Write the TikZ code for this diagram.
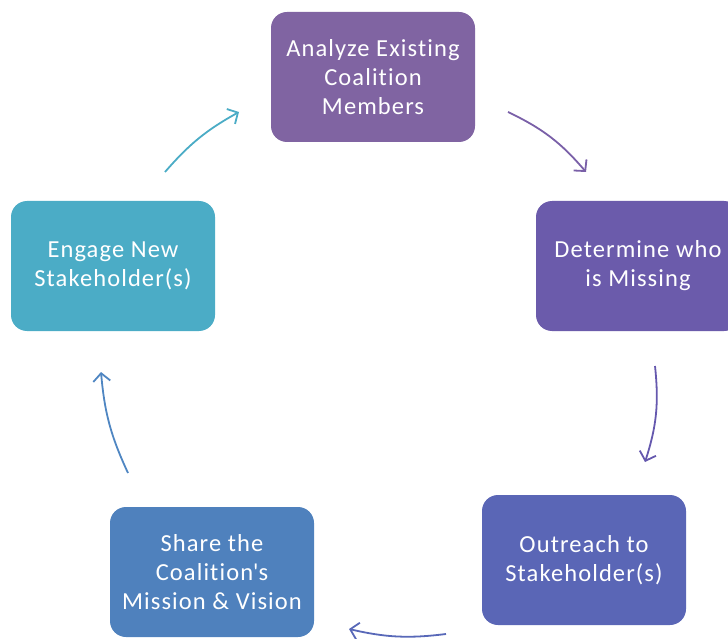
\documentclass[tikz,border=0pt]{standalone}
\usepackage{fontspec}
\setmainfont[LetterSpace=4.5,Ligatures={NoCommon}]{Carlito}
\usetikzlibrary{arrows.meta}
\definecolor{cA}{HTML}{8064A2}
\definecolor{cB}{HTML}{6B5BAB}
\definecolor{cC}{HTML}{5A66B6}
\definecolor{cD}{HTML}{4F81BD}
\definecolor{cE}{HTML}{4BACC6}
\definecolor{aA}{HTML}{7A60A8}
\definecolor{aB}{HTML}{6558AE}
\definecolor{aC}{HTML}{5868B8}
\definecolor{aD}{HTML}{4F86C2}
\definecolor{aE}{HTML}{4BACC6}
\tikzset{
  stagebox/.style={rectangle, rounded corners=16pt, minimum width=204pt, minimum height=130pt,
    text=white, font=\fontsize{24.5}{29}\selectfont, align=center, inner sep=0pt},
  cyc/.style={line width=1.8pt, -{Straight Barb[length=8pt,width=17pt,line width=1.8pt]}},
}
\begin{document}
\begin{tikzpicture}[x=1pt,y=-1pt]
\useasboundingbox (0,0) rectangle (728,639);
\node[stagebox, fill=cA] (n1) at (373,77) {Analyze Existing\\Coalition\\Members};
\node[stagebox, fill=cB] (n2) at (638,266) {Determine who\\is Missing};
\node[stagebox, fill=cC] (n3) at (584,560) {Outreach to\\Stakeholder(s)};
\node[stagebox, fill=cD] (n4) at (212,572) {Share the\\Coalition\textquotesingle s\\Mission \& Vision};
\node[stagebox, fill=cE] (n5) at (113,266) {Engage New\\Stakeholder(s)};
\coordinate (a1s) at (508,112); \coordinate (a1e) at (586,172);
\coordinate (a2s) at (655,366); \coordinate (a2e) at (645,462);
\coordinate (a3s) at (446,634); \coordinate (a3e) at (349,629);
\coordinate (a4s) at (128,473); \coordinate (a4e) at (101,372);
\coordinate (a5s) at (165,172); \coordinate (a5e) at (239,112);
\draw[cyc, aA] (a1s) to[bend left=12] (a1e);
\draw[cyc, aB] (a2s) to[bend left=12] (a2e);
\draw[cyc, aC] (a3s) to[bend left=10] (a3e);
\draw[cyc, aD] (a4s) to[bend left=10] (a4e);
\draw[cyc, aE] (a5s) to[bend left=10] (a5e);
\end{tikzpicture}
\end{document}
